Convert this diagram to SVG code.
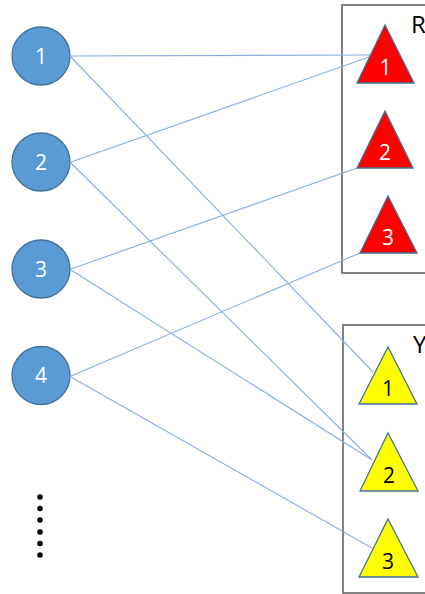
<svg xmlns="http://www.w3.org/2000/svg" width="425" height="594" viewBox="0 0 425 594">
<style>
.box{fill:none;stroke:#595959;stroke-width:1.5}
.c{fill:#5b9bd5;stroke:#41719c;stroke-width:1.3}
.tr{fill:#ff0000;stroke:#41719c;stroke-width:1.3}
.ty{fill:#ffff00;stroke:#41719c;stroke-width:1.3}
.lbl{font-family:"Open Sans","Liberation Sans",Arial,sans-serif;font-size:21px;text-anchor:middle}
.w{fill:#ffffff}
.k{fill:#000000}
.big{font-family:"Open Sans","Liberation Sans",Arial,sans-serif;font-size:24px;fill:#000}
.ln{stroke:#86afdc;stroke-width:1.1;fill:none}
</style>
<rect width="425" height="594" fill="#ffffff"/>
<g id="groupR">
<rect class="box" x="342" y="5" width="90" height="268"/>
<text class="big" x="411" y="33">R</text>
</g>
<g id="groupY">
<rect class="box" x="343" y="325" width="90" height="268"/>
<text class="big" x="413" y="353">Y</text>
</g>
<g id="connectors">
<line class="ln" x1="71" y1="56" x2="370" y2="55"/>
<line class="ln" x1="71" y1="57" x2="373" y2="372"/>
<line class="ln" x1="71" y1="162" x2="369" y2="57"/>
<line class="ln" x1="71" y1="163" x2="372" y2="460"/>
<line class="ln" x1="71" y1="269" x2="357" y2="168"/>
<line class="ln" x1="71" y1="270" x2="372" y2="460"/>
<line class="ln" x1="71" y1="376" x2="360" y2="253"/>
<line class="ln" x1="71" y1="377" x2="372" y2="548"/>
</g>
<g id="n1"><circle class="c" cx="41" cy="56" r="29"/><text class="lbl w" x="41" y="63.5">1</text></g>
<g id="n2"><circle class="c" cx="41" cy="162" r="29"/><text class="lbl w" x="41" y="169.5">2</text></g>
<g id="n3"><circle class="c" cx="41" cy="269" r="29"/><text class="lbl w" x="41" y="276.5">3</text></g>
<g id="n4"><circle class="c" cx="41" cy="375.5" r="29"/><text class="lbl w" x="41" y="383">4</text></g>
<g id="dots" fill="#000">
<circle cx="40" cy="497" r="2.8"/>
<circle cx="40" cy="508.5" r="2.8"/>
<circle cx="40" cy="520" r="2.8"/>
<circle cx="40" cy="532" r="2.8"/>
<circle cx="40" cy="543.5" r="2.8"/>
<circle cx="40" cy="555" r="2.8"/>
</g>
<g id="r1"><polygon class="tr" points="385,25 414,83 357,83"/><text class="lbl w" x="385.5" y="74.5">1</text></g>
<g id="r2"><polygon class="tr" points="385,111 413,168 357,168"/><text class="lbl w" x="385" y="160">2</text></g>
<g id="r3"><polygon class="tr" points="388,196 417,253 360,253"/><text class="lbl w" x="388" y="245">3</text></g>
<g id="y1"><polygon class="ty" points="388,347 417,404 359,404"/><text class="lbl k" x="388" y="396">1</text></g>
<g id="y2"><polygon class="ty" points="388,433 418,491 360,491"/><text class="lbl k" x="389" y="483">2</text></g>
<g id="y3"><polygon class="ty" points="388,519 418,577 359,577"/><text class="lbl k" x="388" y="569">3</text></g>
</svg>
